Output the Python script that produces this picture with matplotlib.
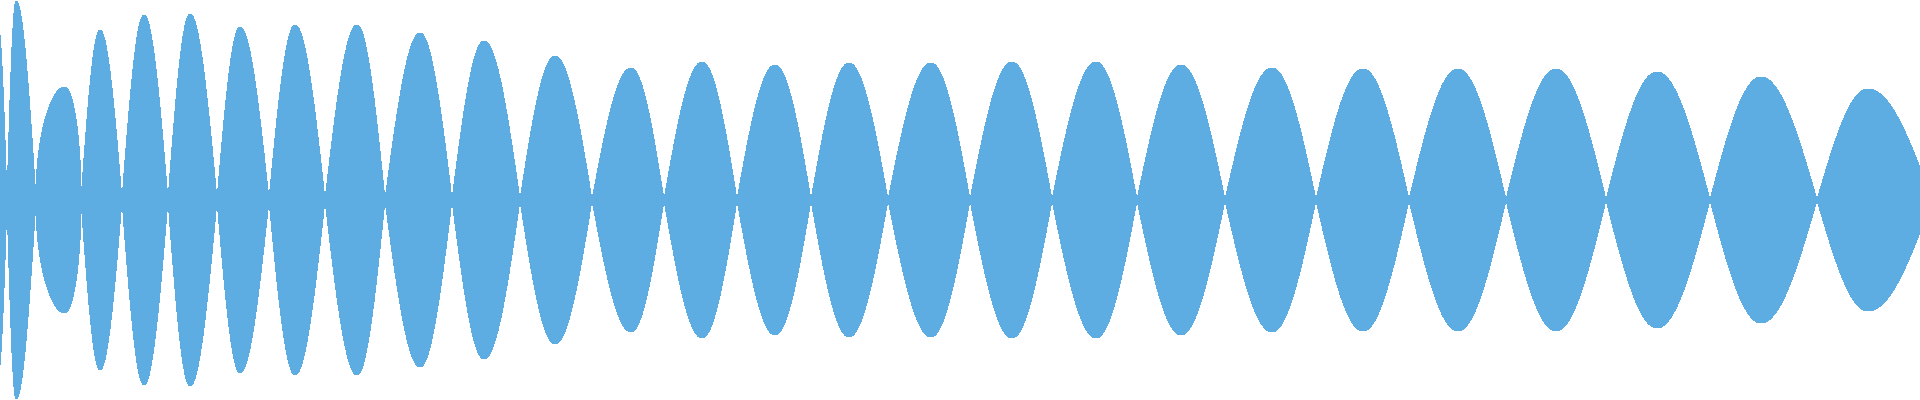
import numpy as np
import matplotlib
matplotlib.use("Agg")
import matplotlib.pyplot as plt

# Waveform envelope.
# Times in ms (whole clip = 1920 ms), amplitudes normalised to +-1.
DURATION = 1920
lobe_start = [-22, 7, 36, 81, 122, 168, 217, 269, 325, 385, 452, 520, 592, 664,
              737, 811, 888, 970, 1052, 1137, 1225, 1316, 1409, 1506, 1606, 1710, 1817]
lobe_end = [7, 36, 81, 122, 168, 217, 269, 325, 385, 452, 520, 592, 664, 737,
            811, 888, 970, 1052, 1137, 1225, 1316, 1409, 1506, 1606, 1710, 1817, 1932]
lobe_peak_t = [-2, 16, 65, 100, 144, 190, 240, 295, 357, 420, 484, 555, 631, 702,
               775, 849, 931, 1012, 1096, 1181, 1272, 1363, 1458, 1556, 1657, 1761, 1868]
lobe_peak_amp = [0.875, 0.995, 0.565, 0.85, 0.925, 0.93, 0.865, 0.875, 0.875, 0.835,
                 0.795, 0.72, 0.66, 0.69, 0.675, 0.685, 0.685, 0.69, 0.69, 0.675,
                 0.66, 0.655, 0.655, 0.655, 0.64, 0.615, 0.555]
# how rounded each lobe is (1 = plain half sine, <1 = flatter top)
lobe_shape = [1, 1, 0.45] + [1] * 24

COLOR = "#5DADE2"


def lobe_envelope(t0, t1, tp, amp, p, n=200):
    t = np.linspace(t0, t1, n)
    phase = np.where(t <= tp,
                     (t - t0) / (tp - t0) * np.pi / 2,
                     np.pi / 2 + (t - tp) / (t1 - tp) * np.pi / 2)
    return t, amp * np.clip(np.sin(phase), 0, None) ** p


def main():
    ts, env = [], []
    for t0, t1, tp, a, p in zip(lobe_start, lobe_end, lobe_peak_t, lobe_peak_amp, lobe_shape):
        t, e = lobe_envelope(t0, t1, tp, a, p)
        ts.append(t)
        env.append(e)
    t = np.concatenate(ts)
    env = np.concatenate(env)

    fig = plt.figure(figsize=(19.2, 4), dpi=100)
    ax = fig.add_axes([0, 0, 1, 1])
    ax.fill_between(t, -env, env, color=COLOR, linewidth=0, antialiased=False)
    ax.axhline(0, color=COLOR, linewidth=1)
    ax.set_xlim(0, DURATION)
    ax.set_ylim(-1, 1)
    ax.axis("off")

    fig.savefig("out.png", dpi=100, facecolor="white")


if __name__ == "__main__":
    main()
